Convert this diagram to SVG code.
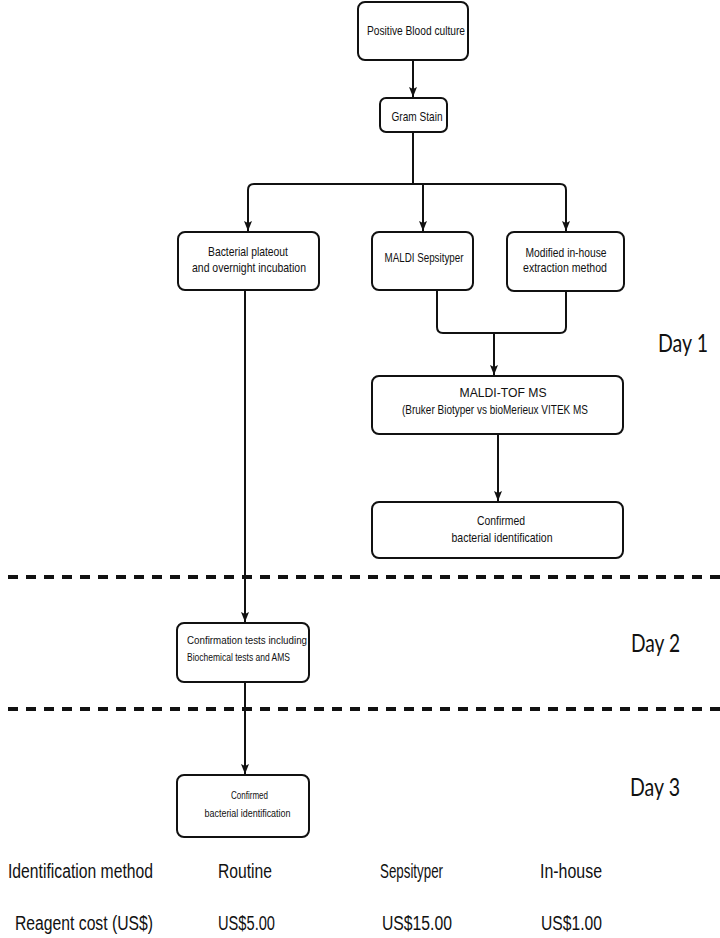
<svg xmlns="http://www.w3.org/2000/svg" width="720" height="938" viewBox="0 0 720 938">
<style>
.box{fill:#fff;stroke:#111;stroke-width:2}
.t{font-family:"Liberation Sans",Arial,sans-serif;font-size:13px;fill:#111;text-anchor:middle}
.ts{font-family:"Liberation Sans",Arial,sans-serif;font-size:11.5px;fill:#111}
.day{font-family:Lato,"Open Sans",sans-serif;font-size:25px;fill:#111}
.foot{font-family:"Liberation Sans",Arial,sans-serif;font-size:20px;fill:#111}
.c{fill:none;stroke:#111;stroke-width:2}
.dash{stroke:#111;stroke-width:4;stroke-dasharray:10 8}
</style>
<defs>
<marker id="ah" viewBox="0 0 10 8" refX="10" refY="4" markerWidth="10" markerHeight="8" markerUnits="userSpaceOnUse" orient="auto">
<path d="M0,0 L10,4 L0,8 L2,4 z" fill="#111"/>
</marker>
</defs>
<g id="separators">
<line class="dash" x1="-10" y1="577" x2="720" y2="577"/>
<line class="dash" x1="-10" y1="709" x2="720" y2="709"/>
</g>
<g id="connectors">
<line class="c" x1="413" y1="60" x2="413" y2="97" marker-end="url(#ah)"/>
<line class="c" x1="413" y1="132" x2="413" y2="184"/>
<path class="c" d="M248,231 L248,190 Q248,184 254,184 L560,184 Q566,184 566,190 L566,231" marker-end="url(#ah)"/>
<line class="c" x1="248" y1="200" x2="248" y2="231" marker-end="url(#ah)"/>
<line class="c" x1="423" y1="184" x2="423" y2="231" marker-end="url(#ah)"/>
<path class="c" d="M437,290 L437,327 Q437,333 443,333 L560,333 Q566,333 566,327 L566,291"/>
<line class="c" x1="494" y1="333" x2="494" y2="375" marker-end="url(#ah)"/>
<line class="c" x1="498" y1="434" x2="498" y2="501" marker-end="url(#ah)"/>
<line class="c" x1="245" y1="290" x2="245" y2="622" marker-end="url(#ah)"/>
<line class="c" x1="245" y1="682" x2="245" y2="774" marker-end="url(#ah)"/>
</g>
<g id="positive-blood-culture">
<rect class="box" x="358" y="2" width="110" height="58" rx="7"/>
<text class="t" x="416" y="34.5" textLength="98" lengthAdjust="spacingAndGlyphs">Positive Blood culture</text>
</g>
<g id="gram-stain">
<rect class="box" x="380" y="98" width="67" height="34" rx="6"/>
<text class="t" x="417" y="121" textLength="51" lengthAdjust="spacingAndGlyphs">Gram Stain</text>
</g>
<g id="bacterial-plateout">
<rect class="box" x="178" y="232" width="141" height="58" rx="7"/>
<text class="t" x="248" y="255.5" textLength="80" lengthAdjust="spacingAndGlyphs">Bacterial plateout</text>
<text class="t" x="249" y="271.5" textLength="114" lengthAdjust="spacingAndGlyphs">and overnight incubation</text>
</g>
<g id="maldi-sepsityper">
<rect class="box" x="372" y="232" width="101" height="58" rx="7"/>
<text class="t" x="424" y="262" textLength="79" lengthAdjust="spacingAndGlyphs">MALDI Sepsityper</text>
</g>
<g id="modified-in-house">
<rect class="box" x="507" y="232" width="117" height="59" rx="7"/>
<text class="t" x="566" y="256.5" textLength="81" lengthAdjust="spacingAndGlyphs">Modified in-house</text>
<text class="t" x="565" y="271.5" textLength="84" lengthAdjust="spacingAndGlyphs">extraction method</text>
</g>
<g id="maldi-tof-ms">
<rect class="box" x="372" y="376" width="251" height="58" rx="7"/>
<text class="t" x="503" y="396.5" textLength="87" lengthAdjust="spacingAndGlyphs">MALDI-TOF MS</text>
<text class="t" x="495" y="413.5" textLength="186" lengthAdjust="spacingAndGlyphs">(Bruker Biotyper vs bioMerieux VITEK MS</text>
</g>
<g id="confirmed-day1">
<rect class="box" x="372" y="502" width="251" height="56" rx="7"/>
<text class="t" x="501" y="524.5" textLength="48" lengthAdjust="spacingAndGlyphs">Confirmed</text>
<text class="t" x="502" y="541.5" textLength="101" lengthAdjust="spacingAndGlyphs">bacterial identification</text>
</g>
<g id="confirmation-tests">
<rect class="box" x="177" y="623" width="132" height="59" rx="7"/>
<text class="ts" x="187" y="644" textLength="120" lengthAdjust="spacingAndGlyphs">Confirmation tests including</text>
<text class="ts" x="187" y="661" textLength="103" lengthAdjust="spacingAndGlyphs">Biochemical tests and AMS</text>
</g>
<g id="confirmed-day3">
<rect class="box" x="177" y="775" width="132" height="62" rx="7"/>
<text class="ts" x="249.5" y="799" text-anchor="middle" textLength="37" lengthAdjust="spacingAndGlyphs">Confirmed</text>
<text class="ts" x="247.5" y="817" text-anchor="middle" textLength="86" lengthAdjust="spacingAndGlyphs">bacterial identification</text>
</g>
<g id="day-labels">
<text class="day" x="708" y="352" text-anchor="end" textLength="50" lengthAdjust="spacingAndGlyphs">Day 1</text>
<text class="day" x="631" y="652" textLength="49" lengthAdjust="spacingAndGlyphs">Day 2</text>
<text class="day" x="630" y="796" textLength="50" lengthAdjust="spacingAndGlyphs">Day 3</text>
</g>
<g id="cost-table">
<text class="foot" x="8" y="878" textLength="145" lengthAdjust="spacingAndGlyphs">Identification method</text>
<text class="foot" x="218" y="878" textLength="54" lengthAdjust="spacingAndGlyphs">Routine</text>
<text class="foot" x="380" y="878" textLength="63" lengthAdjust="spacingAndGlyphs">Sepsityper</text>
<text class="foot" x="540" y="878" textLength="62" lengthAdjust="spacingAndGlyphs">In-house</text>
<text class="foot" x="15" y="930" textLength="138" lengthAdjust="spacingAndGlyphs">Reagent cost (US$)</text>
<text class="foot" x="218" y="930" textLength="57" lengthAdjust="spacingAndGlyphs">US$5.00</text>
<text class="foot" x="382" y="930" textLength="70" lengthAdjust="spacingAndGlyphs">US$15.00</text>
<text class="foot" x="541" y="930" textLength="61" lengthAdjust="spacingAndGlyphs">US$1.00</text>
</g>
</svg>
